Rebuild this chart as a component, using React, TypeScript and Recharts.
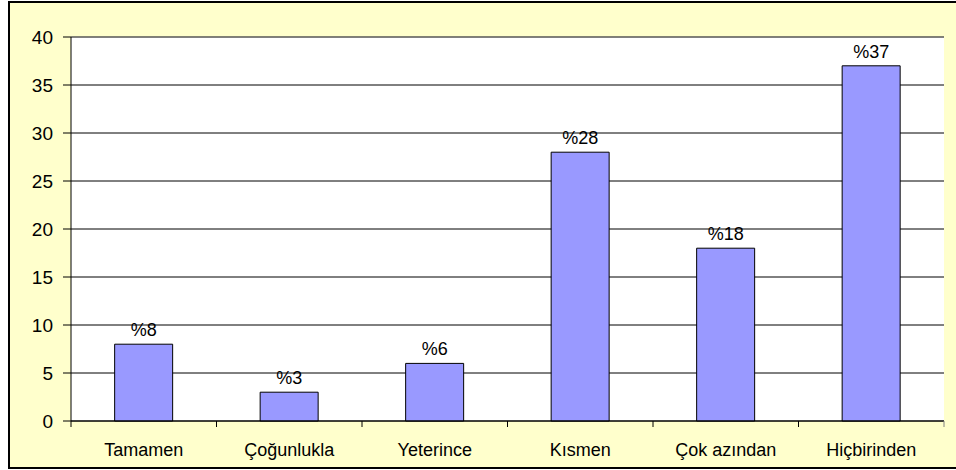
import { Bar, BarChart, CartesianGrid, LabelList, ReferenceLine, XAxis, YAxis } from "recharts";

const categories = ["Tamamen", "Çoğunlukla", "Yeterince", "Kısmen", "Çok azından", "Hiçbirinden"];
const values = [8, 3, 6, 28, 18, 37];
const yTicks = [0, 5, 10, 15, 20, 25, 30, 35, 40];

const data = categories.map((name, i) => ({ name, value: values[i] }));

const font = "'Liberation Sans', Arial, sans-serif";

function XTick(props: any) {
  const { x, y, payload, index } = props;
  const half = payload?.offset || 72.75;
  return (
    <g>
      <line x1={x - half} x2={x - half} y1={y - 8} y2={y - 2} stroke="#000" />
      {index === categories.length - 1 && (
        <line x1={x + half} x2={x + half} y1={y - 8} y2={y - 2} stroke="#808080" />
      )}
      <text x={x} y={y + 27} textAnchor="middle" fontSize={18} fill="#000" fontFamily={font}>
        {payload.value}
      </text>
    </g>
  );
}

export default function App() {
  return (
    <div
      style={{
        position: "absolute",
        left: 8,
        top: 1,
        width: 960,
        height: 464,
        background: "#FFFFCC",
        borderTop: "2px solid #000",
        borderLeft: "2px solid #000",
        borderBottom: "2px solid #000",
        fontFamily: font,
      }}
    >
      <BarChart
        width={948}
        height={464}
        data={data}
        margin={{ top: 34, right: 14, bottom: 0, left: 0 }}
        barCategoryGap="30%"
      >
        <CartesianGrid vertical={false} stroke="#000" fill="#fff" fillOpacity={1} />
        <XAxis
          dataKey="name"
          height={46}
          axisLine={{ stroke: "#000" }}
          tickLine={false}
          interval={0}
          tick={<XTick />}
        />
        <YAxis
          domain={[0, 40]}
          ticks={yTicks}
          width={61}
          axisLine={{ stroke: "#000" }}
          tickLine={{ stroke: "#000" }}
          tickSize={8}
          tickMargin={10}
          tick={{ fontSize: 19, fill: "#000", fontFamily: font }}
          interval={0}
        />
        <YAxis
          yAxisId="r"
          orientation="right"
          width={0}
          domain={[0, 40]}
          tick={false}
          tickLine={false}
          axisLine={{ stroke: "#808080" }}
        />
        <ReferenceLine y={40} stroke="#808080" />
        <Bar dataKey="value" fill="#9999FF" stroke="#000" strokeWidth={1} isAnimationActive={false}>
          <LabelList
            dataKey="value"
            position="top"
            offset={8}
            formatter={(v: any) => `%${v}`}
            style={{ fontSize: 18, fill: "#000", fontFamily: font }}
          />
        </Bar>
      </BarChart>
    </div>
  );
}
